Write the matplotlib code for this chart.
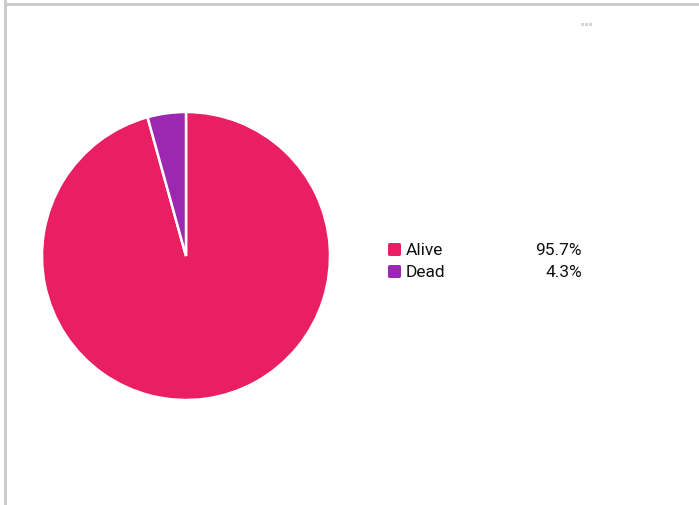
import matplotlib
matplotlib.use("Agg")
import matplotlib.pyplot as plt
from matplotlib.patches import FancyBboxPatch, Rectangle
from matplotlib.lines import Line2D

# ── Data ──────────────────────────────────────────────────────────────────
labels = ["Alive", "Dead"]
shares = [95.7, 4.3]
colors = ["#E91E63", "#9C27B0"]

W, H = 699, 506
plt.rcParams["font.family"] = ["Roboto", "DejaVu Sans"]

fig = plt.figure(figsize=(W / 100, H / 100), dpi=100)
fig.patch.set_facecolor("white")

# card border (top and left edges)
fig.add_artist(Line2D([5 / W, 5 / W], [0, 1], color="#cccccc", lw=2.2))
fig.add_artist(Line2D([5 / W, 698 / W], [1 - 4.5 / H, 1 - 4.5 / H], color="#cccccc", lw=2.2))

# pie
ax = fig.add_axes([42 / W, (H - 401) / H, 288 / W, 288 / H])
ax.pie(shares, colors=colors, startangle=90, counterclock=False,
       wedgeprops=dict(edgecolor="white", linewidth=1.8))
ax.set_xlim(-1, 1)
ax.set_ylim(-1, 1)
ax.axis("off")

# legend
rows_y = [250.5, 272.5]
for lab, val, col, y in zip(labels, shares, colors, rows_y):
    sq = FancyBboxPatch((388 / W, (H - y - 6.5) / H), 13 / W, 13 / H,
                        boxstyle="round,pad=0,rounding_size=0.003",
                        transform=fig.transFigure, facecolor=col,
                        edgecolor="none")
    fig.add_artist(sq)
    fig.text(406 / W, (H - y) / H, lab, fontsize=12.5, color="#111111",
             ha="left", va="center")
    fig.text(582 / W, (H - y) / H, f"{val:.1f}%", fontsize=12.5, color="#111111",
             ha="right", va="center")

# menu dots
for dx in (581, 585, 589):
    fig.add_artist(Rectangle((dx / W, (H - 27) / H), 3 / W, 3 / H,
                             transform=fig.transFigure, facecolor="#d6d6d6",
                             edgecolor="none"))

fig.savefig("out.png", dpi=100, facecolor="white")
